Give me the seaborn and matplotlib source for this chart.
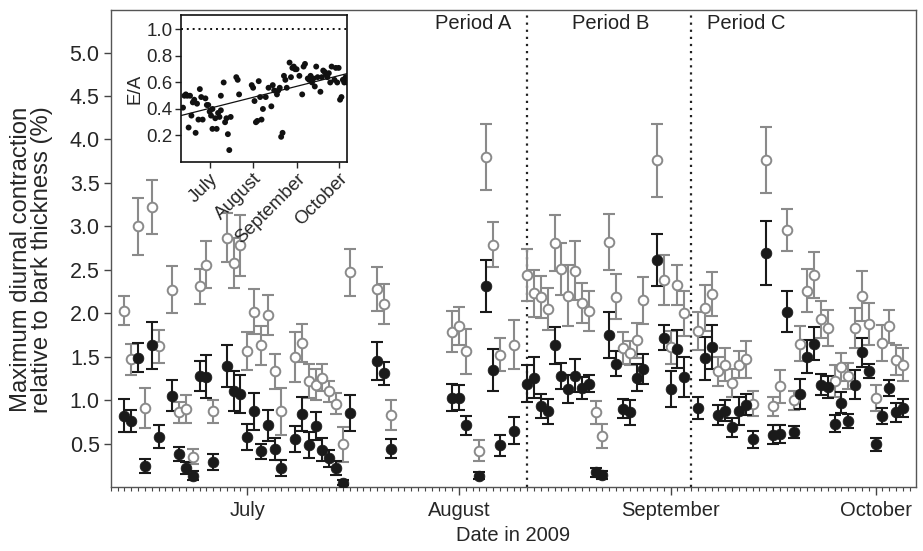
import numpy as np
import pandas as pd
import matplotlib
matplotlib.use("Agg")
import matplotlib.pyplot as plt
import matplotlib.dates as mdates
import seaborn as sns

# ---------------- data ----------------
dates = ["06-13", "06-14", "06-15", "06-16", "06-17", "06-18", "06-20", "06-21", "06-22", "06-23",
         "06-24", "06-25", "06-26", "06-28", "06-29", "06-30", "07-01", "07-02", "07-03", "07-04",
         "07-05", "07-06", "07-08", "07-09", "07-10", "07-11", "07-12", "07-13", "07-14", "07-15",
         "07-16", "07-20", "07-21", "07-22", "07-31", "08-01", "08-02", "08-04", "08-05", "08-06",
         "08-07", "08-09", "08-11", "08-12", "08-13", "08-14", "08-15", "08-16", "08-17", "08-18",
         "08-19", "08-20", "08-21", "08-22", "08-23", "08-24", "08-25", "08-26", "08-27", "08-28",
         "08-30", "08-31", "09-01", "09-02", "09-03", "09-05", "09-06", "09-07", "09-08", "09-09",
         "09-10", "09-11", "09-12", "09-13", "09-15", "09-16", "09-17", "09-18", "09-19", "09-20",
         "09-21", "09-22", "09-23", "09-24", "09-25", "09-26", "09-27", "09-28", "09-29", "09-30",
         "10-01", "10-02", "10-03", "10-04", "10-05"]

open_val = [2.03, 1.47, 3.00, 0.91, 3.22, 1.62, 2.27, 0.86, 0.90, 0.35,
            2.31, 2.56, 0.87, 2.87, 2.58, 2.78, 1.57, 2.02, 1.63, 1.98,
            1.33, 0.87, 1.50, 1.66, 1.22, 1.18, 1.26, 1.10, 0.96, 0.49,
            2.47, 2.28, 2.11, 0.83, 1.79, 1.85, 1.56, 0.42, 3.80, 2.79,
            1.52, 1.64, 2.44, 2.23, 2.19, 2.05, 2.81, 2.51, 2.20, 2.49,
            2.12, 2.03, 0.86, 0.59, 2.82, 2.19, 1.60, 1.54, 1.69, 2.15,
            3.76, 2.38, 1.61, 2.32, 2.00, 1.80, 2.06, 2.22, 1.33, 1.41,
            1.20, 1.41, 1.47, 0.96, 3.76, 0.93, 1.16, 2.96, 1.00, 1.65,
            2.26, 2.44, 1.93, 1.83, 1.22, 1.38, 1.28, 1.83, 2.20, 1.88,
            1.03, 1.66, 1.85, 1.46, 1.41]
open_err = [0.17, 0.18, 0.33, 0.23, 0.31, 0.19, 0.27, 0.12, 0.16, 0.09,
            0.20, 0.27, 0.13, 0.28, 0.29, 0.35, 0.22, 0.26, 0.22, 0.23,
            0.20, 0.27, 0.29, 0.22, 0.20, 0.18, 0.16, 0.12, 0.12, 0.20,
            0.27, 0.25, 0.23, 0.17, 0.24, 0.22, 0.26, 0.12, 0.38, 0.26,
            0.19, 0.28, 0.30, 0.27, 0.24, 0.24, 0.32, 0.30, 0.35, 0.34,
            0.23, 0.23, 0.13, 0.14, 0.32, 0.26, 0.18, 0.14, 0.20, 0.27,
            0.42, 0.29, 0.19, 0.23, 0.26, 0.22, 0.26, 0.25, 0.17, 0.19,
            0.16, 0.16, 0.21, 0.14, 0.38, 0.11, 0.19, 0.24, 0.11, 0.20,
            0.25, 0.27, 0.21, 0.21, 0.18, 0.16, 0.15, 0.23, 0.29, 0.24,
            0.15, 0.21, 0.19, 0.17, 0.19]
fill_val = [0.82, 0.76, 1.49, 0.24, 1.63, 0.58, 1.05, 0.38, 0.22, 0.13,
            1.28, 1.27, 0.29, 1.39, 1.10, 1.07, 0.58, 0.87, 0.41, 0.71,
            0.44, 0.22, 0.55, 0.84, 0.48, 0.70, 0.43, 0.33, 0.22, 0.05,
            0.85, 1.45, 1.31, 0.44, 1.03, 1.03, 0.71, 0.13, 2.31, 1.35,
            0.48, 0.65, 1.19, 1.26, 0.93, 0.87, 1.63, 1.28, 1.13, 1.28,
            1.14, 1.19, 0.17, 0.14, 1.75, 1.42, 0.90, 0.86, 1.26, 1.36,
            2.61, 1.72, 1.13, 1.59, 1.27, 0.91, 1.48, 1.61, 0.83, 0.88,
            0.69, 0.88, 0.95, 0.55, 2.69, 0.60, 0.61, 2.02, 0.63, 1.07,
            1.50, 1.65, 1.18, 1.15, 0.73, 0.97, 0.76, 1.18, 1.55, 1.34,
            0.49, 0.82, 1.14, 0.86, 0.91]
fill_err = [0.19, 0.13, 0.17, 0.08, 0.27, 0.13, 0.18, 0.08, 0.07, 0.05,
            0.17, 0.25, 0.09, 0.24, 0.23, 0.22, 0.15, 0.21, 0.09, 0.18,
            0.13, 0.09, 0.15, 0.20, 0.15, 0.16, 0.13, 0.10, 0.08, 0.03,
            0.21, 0.22, 0.13, 0.11, 0.16, 0.14, 0.11, 0.04, 0.30, 0.24,
            0.12, 0.16, 0.21, 0.24, 0.14, 0.14, 0.21, 0.15, 0.16, 0.19,
            0.13, 0.10, 0.05, 0.05, 0.26, 0.14, 0.11, 0.14, 0.16, 0.17,
            0.30, 0.14, 0.21, 0.22, 0.23, 0.13, 0.25, 0.25, 0.11, 0.12,
            0.11, 0.16, 0.12, 0.10, 0.37, 0.11, 0.10, 0.24, 0.07, 0.17,
            0.19, 0.19, 0.12, 0.13, 0.10, 0.12, 0.08, 0.17, 0.17, 0.08,
            0.07, 0.09, 0.09, 0.11, 0.10]

period_dates = ["2009-08-10 22:00", "2009-09-03 22:00"]
period_labels = ["Period A", "Period B", "Period C"]
period_label_dates = ["2009-08-03 02:00", "2009-08-23 05:00", "2009-09-12 03:00"]

# inset: day of year 2009 and E/A ratio
inset_doy = [163, 165, 166, 168, 167, 169, 171, 172, 173, 175, 174, 177, 176, 179, 180, 181,
             182, 183, 184, 186, 184, 187, 188, 190, 192, 190, 194, 195, 196, 193, 197, 201,
             202, 203, 212, 213, 214, 216, 217, 218, 219, 220, 222, 224, 226, 227, 228, 230,
             231, 232, 233, 234, 235, 236, 237, 239, 240, 242, 243, 244, 246, 248, 249, 250,
             252, 254, 255, 256, 257, 258, 259, 261, 262, 263, 264, 266, 267, 268, 269, 271,
             272, 273, 274, 275, 276, 277, 278, 279, 280, 164, 170, 189, 215, 241, 253, 265]
inset_ea = [0.41, 0.51, 0.50, 0.50, 0.26, 0.35, 0.47, 0.22, 0.44, 0.55, 0.32, 0.32, 0.49, 0.48, 0.43, 0.43,
            0.38, 0.35, 0.40, 0.33, 0.25, 0.25, 0.37, 0.50, 0.60, 0.39, 0.33, 0.21, 0.09, 0.30, 0.34, 0.64,
            0.62, 0.51, 0.58, 0.56, 0.46, 0.31, 0.61, 0.49, 0.32, 0.40, 0.49, 0.56, 0.42, 0.58, 0.54, 0.51,
            0.54, 0.56, 0.19, 0.22, 0.65, 0.62, 0.56, 0.75, 0.64, 0.72, 0.70, 0.70, 0.65, 0.51, 0.72, 0.74,
            0.63, 0.65, 0.60, 0.63, 0.57, 0.72, 0.64, 0.53, 0.64, 0.69, 0.68, 0.64, 0.67, 0.60, 0.72, 0.62,
            0.71, 0.60, 0.71, 0.47, 0.49, 0.62, 0.60, 0.64, 0.60, 0.50, 0.45, 0.34, 0.30, 0.71, 0.62, 0.66]

# ---------------- figure ----------------
sns.set_style("ticks")
plt.rcParams["font.family"] = ["Liberation Sans", "DejaVu Sans"]
FS = 14.5

fig = plt.figure(figsize=(9.23, 5.51), dpi=100)
ax = fig.add_axes([0.120, 0.116, 0.872, 0.866])

x = pd.to_datetime(["2009-" + d for d in dates])
df = pd.DataFrame({"date": x, "open": open_val, "open_err": open_err,
                   "fill": fill_val, "fill_err": fill_err})

gray = "#8a8a8a"
dark = "#1a1a1a"
ax.errorbar(df["date"], df["open"], yerr=df["open_err"], fmt="none",
            ecolor=gray, elinewidth=1.5, capsize=4.2, capthick=1.5, zorder=2)
ax.errorbar(df["date"], df["fill"], yerr=df["fill_err"], fmt="none",
            ecolor=dark, elinewidth=1.5, capsize=4.2, capthick=1.5, zorder=3)
sns.scatterplot(data=df, x="date", y="open", ax=ax, marker="o", s=48,
                facecolor="white", edgecolor=gray, linewidth=1.4, zorder=4)
sns.scatterplot(data=df, x="date", y="fill", ax=ax, marker="o", s=60,
                color=dark, edgecolor=dark, linewidth=0.5, zorder=5)

for d in period_dates:
    ax.axvline(pd.Timestamp(d), color="#222222", ls=(0, (1, 2.2)), lw=1.6, zorder=1)
for lab, d in zip(period_labels, period_label_dates):
    ax.text(pd.Timestamp(d), 5.33, lab, ha="center", va="center", fontsize=FS, color="#222222")

ax.set_xlim(pd.Timestamp("2009-06-11"), pd.Timestamp("2009-10-06 21:00"))
ax.set_ylim(0, 5.49)
ax.set_yticks(np.arange(0.5, 5.01, 0.5))
ax.yaxis.set_major_formatter(matplotlib.ticker.FormatStrFormatter("%.1f"))
ax.xaxis.set_major_locator(mdates.MonthLocator())
ax.xaxis.set_major_formatter(mdates.DateFormatter("%B"))
ax.xaxis.set_minor_locator(mdates.DayLocator())
ax.tick_params(axis="x", which="major", length=6, width=1, color="#444444", labelsize=FS, pad=4)
ax.tick_params(axis="x", which="minor", length=3, width=0.8, color="#444444")
ax.tick_params(axis="y", which="major", length=5, width=1, color="#444444", labelsize=15.5, pad=3)
ax.set_xlabel("Date in 2009", fontsize=FS, labelpad=4)
ax.set_ylabel("Maximum diurnal contraction\nrelative to bark thickness (%)", fontsize=17.2,
              linespacing=0.95)
ax.yaxis.set_label_coords(-0.072, 0.477)
for s in ax.spines.values():
    s.set_visible(True)
    s.set_color("#555555")
    s.set_linewidth(1.0)

# ---------------- inset ----------------
axi = fig.add_axes([0.196, 0.706, 0.180, 0.267])
base = mdates.date2num(pd.Timestamp("2009-01-01"))
inum = base + np.array(inset_doy) - 1
xlo = mdates.date2num(pd.Timestamp("2009-06-10 12:00"))
xhi = mdates.date2num(pd.Timestamp("2009-10-07"))
axi.set_xlim(xlo, xhi)
sns.regplot(x=inum, y=inset_ea, ax=axi, ci=None, truncate=False,
            scatter_kws=dict(s=18, color="#111111", edgecolor="none", alpha=1),
            line_kws=dict(color="#111111", lw=0.9))
axi.axhline(1.0, color="#111111", ls=(0, (1, 2)), lw=1.4)
axi.set_xlim(xlo, xhi)
axi.set_ylim(0, 1.11)
axi.set_yticks([0.2, 0.4, 0.6, 0.8, 1.0])
axi.yaxis.set_major_formatter(matplotlib.ticker.FormatStrFormatter("%.1f"))
axi.xaxis.set_major_locator(mdates.MonthLocator(bymonth=[7, 8, 9, 10]))
axi.xaxis.set_major_formatter(mdates.DateFormatter("%B"))
axi.tick_params(axis="both", length=4, width=1, labelsize=13.5, pad=2)
plt.setp(axi.get_xticklabels(), rotation=45, ha="right", rotation_mode="anchor")
axi.set_ylabel("E/A", fontsize=13.5, labelpad=2)
axi.set_xlabel("")
for s in axi.spines.values():
    s.set_visible(True)
    s.set_color("#111111")
    s.set_linewidth(1.2)

fig.savefig("out.png", dpi=100)
